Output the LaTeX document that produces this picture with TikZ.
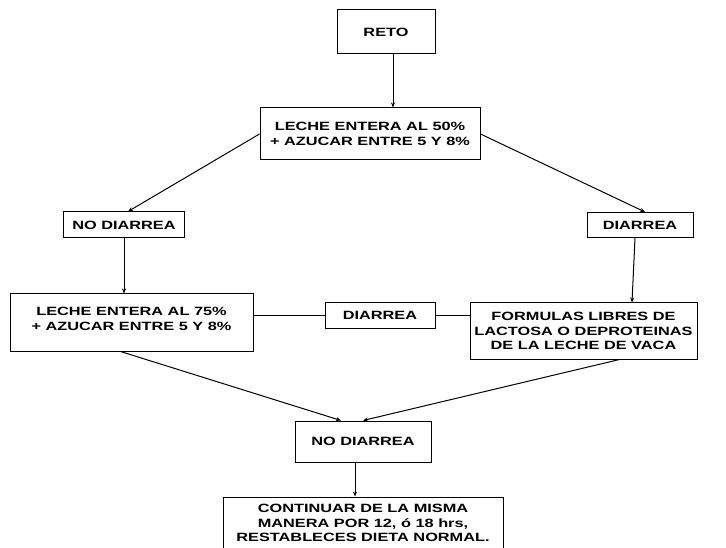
\documentclass[tikz,border=0pt]{standalone}
\usepackage{fontspec}
\setmainfont[FakeStretch=1.36]{Liberation Sans}
\usepackage{tikz}
\usetikzlibrary{arrows.meta, positioning}

\begin{document}
\begin{tikzpicture}[
    x=1pt, y=-1pt,
    box/.style={draw, line width=1pt, align=center, inner sep=2pt, font=\fontsize{12}{14.5}\selectfont\bfseries},
    arr/.style={-{Stealth[length=5pt,width=4pt]}, line width=1pt},
    link/.style={line width=1pt}
]
\useasboundingbox (0,0) rectangle (726,548);

\node[box, minimum width=98pt, minimum height=44pt] (reto) at (386,32) {RETO};
\node[box, minimum width=220pt, minimum height=52pt] (leche50) at (370,134) {LECHE ENTERA AL 50\%\\+ AZUCAR ENTRE 5 Y 8\%};
\node[box, minimum width=121pt, minimum height=26pt] (nodl) at (124,225) {NO DIARREA};
\node[box, minimum width=106pt, minimum height=25pt] (diar) at (640,225) {DIARREA};
\node[box, minimum width=243pt, minimum height=57pt, text depth=7pt] (leche75) at (131.5,322.5) {LECHE ENTERA AL 75\%\\+ AZUCAR ENTRE 5 Y 8\%};
\node[box, minimum width=110pt, minimum height=25pt] (diarm) at (380,315.5) {DIARREA};
\node[box, minimum width=227pt, minimum height=56pt] (form) at (583.5,331) {FORMULAS LIBRES DE\\LACTOSA O DEPROTEINAS\\DE LA LECHE DE VACA};
\node[box, minimum width=136pt, minimum height=41pt] (nodb) at (363,441.5) {NO DIARREA};
\node[box, minimum width=280pt, minimum height=64pt, text depth=12pt] (cont) at (363,529) {CONTINUAR DE LA MISMA\\MANERA POR 12, ó 18 hrs,\\RESTABLECES DIETA NORMAL.};

\draw[arr] ([xshift=7pt]reto.south) -- ([xshift=23pt]leche50.north);
\draw[arr] (leche50.west) -- ([xshift=4pt]nodl.north);
\draw[arr] (leche50.east) -- ([xshift=5pt]diar.north);
\draw[arr] (nodl.south) -- (nodl.south |- leche75.north);
\draw[arr] ([xshift=-5pt]diar.south) -- ([xshift=-8pt]diar.south |- form.north);
\draw[link] (diarm.west -| leche75.east) -- (diarm.west);
\draw[link] (diarm.east) -- (diarm.east -| form.west);
\draw[arr] ([xshift=-11pt]leche75.south) -- ([xshift=-22pt]nodb.north);
\draw[arr] ([xshift=36pt]form.south) -- (nodb.north);
\draw[arr] ([xshift=-8pt]nodb.south) -- ([xshift=-8pt]nodb.south |- cont.north);

\end{tikzpicture}
\end{document}
